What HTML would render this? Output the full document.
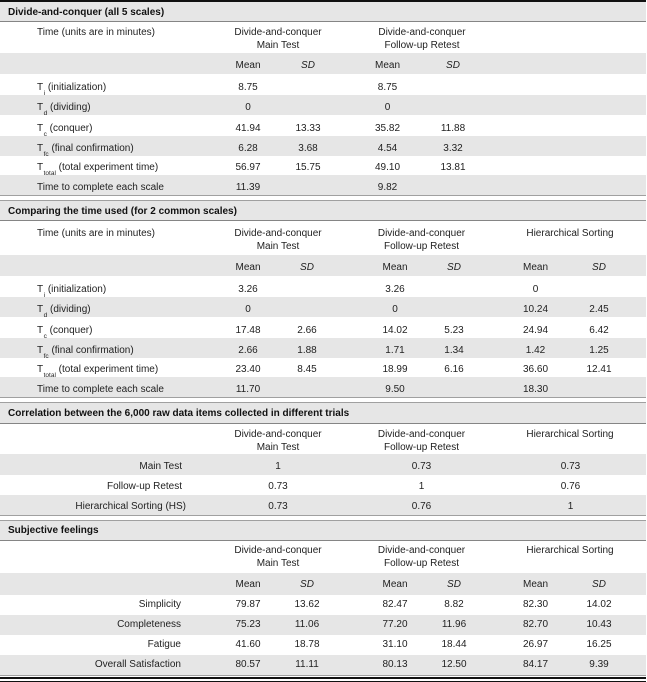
<!DOCTYPE html>
<html><head><meta charset="utf-8"><style>
body{margin:0;background:#fff;}
#p{position:relative;width:647px;height:682px;overflow:hidden;font-family:"Liberation Sans",Arial,sans-serif;font-size:10px;color:#222;background:#fff;}
.b{position:absolute;left:0;width:646px;}
.g{background:#e6e6e6;}
.ln{position:absolute;left:0;width:646px;height:1px;background:#a0a0a0;}
.dk{background:#858585;}
.bk{background:#111;}
.t{position:absolute;line-height:12px;white-space:nowrap;}
.c{width:120px;margin-left:-60px;text-align:center;}
.r{width:200px;text-align:right;}
.h{font-weight:bold;color:#111;}
.i{font-style:italic;}
.s{font-size:6.5px;position:relative;top:5px;margin-left:0.5px;}
</style></head><body><div id="p">

<!-- ============ Section 1 ============ -->
<div class="b bk" style="top:0;height:2px"></div>
<div class="b g" style="top:2px;height:19px"></div>
<div class="ln dk" style="top:21px"></div>
<div class="b g" style="top:53px;height:21px"></div>
<div class="b g" style="top:95px;height:20px"></div>
<div class="b g" style="top:136px;height:20px"></div>
<div class="b g" style="top:175px;height:20px"></div>
<div class="ln" style="top:195px"></div>

<div class="t h" style="left:8px;top:6.5px">Divide-and-conquer (all 5 scales)</div>
<div class="t" style="left:37px;top:27px">Time (units are in minutes)</div>
<div class="t c" style="left:278px;top:27px">Divide-and-conquer</div>
<div class="t c" style="left:278px;top:40px">Main Test</div>
<div class="t c" style="left:422px;top:27px">Divide-and-conquer</div>
<div class="t c" style="left:422px;top:40px">Follow-up Retest</div>

<div class="t c" style="left:248px;top:59.5px">Mean</div>
<div class="t c i" style="left:308px;top:59.5px">SD</div>
<div class="t c" style="left:387.5px;top:59.5px">Mean</div>
<div class="t c i" style="left:453px;top:59.5px">SD</div>

<div class="t" style="left:37px;top:81.5px">T<span class="s">i</span> (initialization)</div>
<div class="t c" style="left:248px;top:81.5px">8.75</div>
<div class="t c" style="left:387.5px;top:81.5px">8.75</div>

<div class="t" style="left:37px;top:101.5px">T<span class="s">d</span> (dividing)</div>
<div class="t c" style="left:248px;top:101.5px">0</div>
<div class="t c" style="left:387.5px;top:101.5px">0</div>

<div class="t" style="left:37px;top:122.5px">T<span class="s">c</span> (conquer)</div>
<div class="t c" style="left:248px;top:122.5px">41.94</div>
<div class="t c" style="left:308px;top:122.5px">13.33</div>
<div class="t c" style="left:387.5px;top:122.5px">35.82</div>
<div class="t c" style="left:453px;top:122.5px">11.88</div>

<div class="t" style="left:37px;top:142.5px">T<span class="s">fc</span> (final confirmation)</div>
<div class="t c" style="left:248px;top:142.5px">6.28</div>
<div class="t c" style="left:308px;top:142.5px">3.68</div>
<div class="t c" style="left:387.5px;top:142.5px">4.54</div>
<div class="t c" style="left:453px;top:142.5px">3.32</div>

<div class="t" style="left:37px;top:162px">T<span class="s">total</span> (total experiment time)</div>
<div class="t c" style="left:248px;top:162px">56.97</div>
<div class="t c" style="left:308px;top:162px">15.75</div>
<div class="t c" style="left:387.5px;top:162px">49.10</div>
<div class="t c" style="left:453px;top:162px">13.81</div>

<div class="t" style="left:37px;top:181.5px">Time to complete each scale</div>
<div class="t c" style="left:248px;top:181.5px">11.39</div>
<div class="t c" style="left:387.5px;top:181.5px">9.82</div>

<!-- ============ Section 2 ============ -->
<div class="ln" style="top:200px"></div>
<div class="b g" style="top:201px;height:19px"></div>
<div class="ln dk" style="top:220px"></div>
<div class="b g" style="top:255px;height:21px"></div>
<div class="b g" style="top:297px;height:20px"></div>
<div class="b g" style="top:338px;height:20px"></div>
<div class="b g" style="top:377px;height:20px"></div>
<div class="ln" style="top:397px"></div>

<div class="t h" style="left:8px;top:206px">Comparing the time used (for 2 common scales)</div>
<div class="t" style="left:37px;top:228px">Time (units are in minutes)</div>
<div class="t c" style="left:278px;top:228px">Divide-and-conquer</div>
<div class="t c" style="left:278px;top:241px">Main Test</div>
<div class="t c" style="left:421.5px;top:228px">Divide-and-conquer</div>
<div class="t c" style="left:421.5px;top:241px">Follow-up Retest</div>
<div class="t c" style="left:570px;top:228px">Hierarchical Sorting</div>

<div class="t c" style="left:248px;top:262px">Mean</div>
<div class="t c i" style="left:307px;top:262px">SD</div>
<div class="t c" style="left:395px;top:262px">Mean</div>
<div class="t c i" style="left:454px;top:262px">SD</div>
<div class="t c" style="left:535.5px;top:262px">Mean</div>
<div class="t c i" style="left:599px;top:262px">SD</div>

<div class="t" style="left:37px;top:283.5px">T<span class="s">i</span> (initialization)</div>
<div class="t c" style="left:248px;top:283.5px">3.26</div>
<div class="t c" style="left:395px;top:283.5px">3.26</div>
<div class="t c" style="left:535.5px;top:283.5px">0</div>

<div class="t" style="left:37px;top:303.5px">T<span class="s">d</span> (dividing)</div>
<div class="t c" style="left:248px;top:303.5px">0</div>
<div class="t c" style="left:395px;top:303.5px">0</div>
<div class="t c" style="left:535.5px;top:303.5px">10.24</div>
<div class="t c" style="left:599px;top:303.5px">2.45</div>

<div class="t" style="left:37px;top:324.5px">T<span class="s">c</span> (conquer)</div>
<div class="t c" style="left:248px;top:324.5px">17.48</div>
<div class="t c" style="left:307px;top:324.5px">2.66</div>
<div class="t c" style="left:395px;top:324.5px">14.02</div>
<div class="t c" style="left:454px;top:324.5px">5.23</div>
<div class="t c" style="left:535.5px;top:324.5px">24.94</div>
<div class="t c" style="left:599px;top:324.5px">6.42</div>

<div class="t" style="left:37px;top:344.5px">T<span class="s">fc</span> (final confirmation)</div>
<div class="t c" style="left:248px;top:344.5px">2.66</div>
<div class="t c" style="left:307px;top:344.5px">1.88</div>
<div class="t c" style="left:395px;top:344.5px">1.71</div>
<div class="t c" style="left:454px;top:344.5px">1.34</div>
<div class="t c" style="left:535.5px;top:344.5px">1.42</div>
<div class="t c" style="left:599px;top:344.5px">1.25</div>

<div class="t" style="left:37px;top:364px">T<span class="s">total</span> (total experiment time)</div>
<div class="t c" style="left:248px;top:364px">23.40</div>
<div class="t c" style="left:307px;top:364px">8.45</div>
<div class="t c" style="left:395px;top:364px">18.99</div>
<div class="t c" style="left:454px;top:364px">6.16</div>
<div class="t c" style="left:535.5px;top:364px">36.60</div>
<div class="t c" style="left:599px;top:364px">12.41</div>

<div class="t" style="left:37px;top:383.5px">Time to complete each scale</div>
<div class="t c" style="left:248px;top:383.5px">11.70</div>
<div class="t c" style="left:395px;top:383.5px">9.50</div>
<div class="t c" style="left:535.5px;top:383.5px">18.30</div>

<!-- ============ Section 3 ============ -->
<div class="ln" style="top:402px"></div>
<div class="b g" style="top:403px;height:20px"></div>
<div class="ln dk" style="top:423px"></div>
<div class="b g" style="top:454px;height:21px"></div>
<div class="b g" style="top:495px;height:20px"></div>
<div class="ln" style="top:515px"></div>

<div class="t h" style="left:8px;top:408px">Correlation between the 6,000 raw data items collected in different trials</div>
<div class="t c" style="left:278px;top:428.5px">Divide-and-conquer</div>
<div class="t c" style="left:278px;top:441.5px">Main Test</div>
<div class="t c" style="left:421.5px;top:428.5px">Divide-and-conquer</div>
<div class="t c" style="left:421.5px;top:441.5px">Follow-up Retest</div>
<div class="t c" style="left:570px;top:428.5px">Hierarchical Sorting</div>

<div class="t r" style="left:-18px;top:460.5px">Main Test</div>
<div class="t c" style="left:278px;top:460.5px">1</div>
<div class="t c" style="left:421.5px;top:460.5px">0.73</div>
<div class="t c" style="left:570.5px;top:460.5px">0.73</div>

<div class="t r" style="left:-18px;top:480.5px">Follow-up Retest</div>
<div class="t c" style="left:278px;top:480.5px">0.73</div>
<div class="t c" style="left:421.5px;top:480.5px">1</div>
<div class="t c" style="left:570.5px;top:480.5px">0.76</div>

<div class="t r" style="left:-14px;top:500.5px">Hierarchical Sorting (HS)</div>
<div class="t c" style="left:278px;top:500.5px">0.73</div>
<div class="t c" style="left:421.5px;top:500.5px">0.76</div>
<div class="t c" style="left:570.5px;top:500.5px">1</div>

<!-- ============ Section 4 ============ -->
<div class="ln" style="top:520px"></div>
<div class="b g" style="top:521px;height:19px"></div>
<div class="ln dk" style="top:540px"></div>
<div class="b g" style="top:573px;height:22px"></div>
<div class="b g" style="top:615px;height:20px"></div>
<div class="b g" style="top:655px;height:20px"></div>
<div class="ln" style="top:675px"></div>
<div class="b bk" style="top:677px;height:2px"></div>
<div class="b bk" style="top:681px;height:1px"></div>

<div class="t h" style="left:8px;top:525px">Subjective feelings</div>
<div class="t c" style="left:278px;top:545px">Divide-and-conquer</div>
<div class="t c" style="left:278px;top:558px">Main Test</div>
<div class="t c" style="left:421.5px;top:545px">Divide-and-conquer</div>
<div class="t c" style="left:421.5px;top:558px">Follow-up Retest</div>
<div class="t c" style="left:570px;top:545px">Hierarchical Sorting</div>

<div class="t c" style="left:248px;top:578.5px">Mean</div>
<div class="t c i" style="left:307px;top:578.5px">SD</div>
<div class="t c" style="left:395px;top:578.5px">Mean</div>
<div class="t c i" style="left:454px;top:578.5px">SD</div>
<div class="t c" style="left:535.5px;top:578.5px">Mean</div>
<div class="t c i" style="left:599px;top:578.5px">SD</div>

<div class="t r" style="left:-19px;top:599px">Simplicity</div>
<div class="t c" style="left:248px;top:599px">79.87</div>
<div class="t c" style="left:307px;top:599px">13.62</div>
<div class="t c" style="left:395px;top:599px">82.47</div>
<div class="t c" style="left:454px;top:599px">8.82</div>
<div class="t c" style="left:535.5px;top:599px">82.30</div>
<div class="t c" style="left:599px;top:599px">14.02</div>

<div class="t r" style="left:-19px;top:619px">Completeness</div>
<div class="t c" style="left:248px;top:619px">75.23</div>
<div class="t c" style="left:307px;top:619px">11.06</div>
<div class="t c" style="left:395px;top:619px">77.20</div>
<div class="t c" style="left:454px;top:619px">11.96</div>
<div class="t c" style="left:535.5px;top:619px">82.70</div>
<div class="t c" style="left:599px;top:619px">10.43</div>

<div class="t r" style="left:-19px;top:639px">Fatigue</div>
<div class="t c" style="left:248px;top:639px">41.60</div>
<div class="t c" style="left:307px;top:639px">18.78</div>
<div class="t c" style="left:395px;top:639px">31.10</div>
<div class="t c" style="left:454px;top:639px">18.44</div>
<div class="t c" style="left:535.5px;top:639px">26.97</div>
<div class="t c" style="left:599px;top:639px">16.25</div>

<div class="t r" style="left:-19px;top:659px">Overall Satisfaction</div>
<div class="t c" style="left:248px;top:659px">80.57</div>
<div class="t c" style="left:307px;top:659px">11.11</div>
<div class="t c" style="left:395px;top:659px">80.13</div>
<div class="t c" style="left:454px;top:659px">12.50</div>
<div class="t c" style="left:535.5px;top:659px">84.17</div>
<div class="t c" style="left:599px;top:659px">9.39</div>

</div></body></html>
